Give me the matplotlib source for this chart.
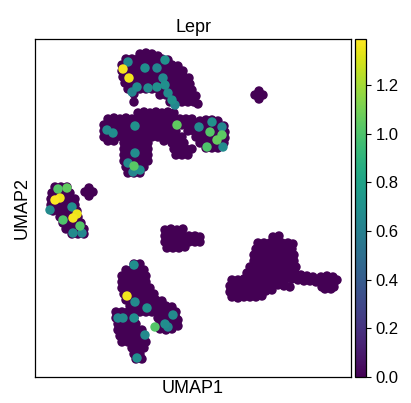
import numpy as np
import matplotlib
matplotlib.use("Agg")
import matplotlib.pyplot as plt

plt.rcParams['font.family'] = ['Liberation Sans', 'DejaVu Sans']

gene = "Lepr"

# umap coordinates of cells with zero expression, grouped by cluster
clust_top = [
    (140, 54), (146, 53), (152, 54), (158, 56),
    (126, 59), (132, 59), (138, 59), (144, 59), (150, 59), (156, 59), (162, 59), (168, 60),
    (122, 65), (130, 65), (136, 65), (142, 65), (148, 65), (154, 65), (160, 65), (166, 65), (172, 65), (178, 66),
    (122, 71), (130, 71), (136, 71), (142, 71), (148, 71), (154, 71), (160, 71), (166, 71), (172, 71), (178, 71), (183, 71),
    (123, 77), (130, 77), (136, 77), (142, 77), (148, 77), (154, 77), (160, 77), (166, 77), (172, 77), (178, 77), (184, 77), (189, 78),
    (125, 83), (132, 83), (138, 83), (144, 83), (150, 83), (156, 83), (162, 83), (168, 83), (174, 83), (180, 83), (186, 83), (190, 84),
    (128, 89), (134, 89), (140, 89), (146, 89), (152, 89), (158, 89), (164, 89), (170, 89), (176, 89), (182, 89), (188, 89), (192, 90),
    (134, 94), (160, 95), (166, 95), (172, 95), (178, 95), (184, 95), (190, 95), (196, 96),
    (134, 102), (170, 102), (176, 102), (182, 102), (188, 102), (194, 102), (198, 104),
]
clust_mid = [
    (138, 113), (144, 112), (150, 113), (156, 112), (162, 113), (168, 112), (174, 113),
    (108, 119), (114, 118), (120, 119), (126, 118), (132, 119), (138, 119), (144, 119), (150, 119), (156, 119),
    (162, 119), (168, 119), (174, 119), (180, 119), (186, 119), (192, 119), (200, 121), (206, 120), (212, 120), (218, 121),
    (104, 125), (110, 125), (116, 125), (122, 125), (128, 125), (134, 125), (140, 125), (146, 125), (152, 125),
    (158, 125), (164, 125), (170, 125), (176, 125), (182, 125), (188, 125), (194, 125), (200, 125), (206, 125),
    (212, 125), (218, 125), (224, 126),
    (104, 131), (110, 131), (116, 131), (122, 131), (128, 131), (134, 131), (140, 131), (146, 131), (152, 131),
    (158, 131), (164, 131), (170, 131), (176, 131), (188, 131), (194, 131), (200, 131), (206, 131), (212, 131),
    (218, 131), (225, 132),
    (104, 137), (110, 137), (116, 137), (122, 137), (128, 137), (134, 137), (140, 137), (146, 137), (152, 137),
    (158, 137), (164, 137), (170, 137), (176, 137), (182, 137), (196, 137), (202, 137), (208, 137), (214, 137),
    (220, 137), (225, 138),
    (108, 141), (114, 141), (124, 143), (130, 143), (136, 143), (142, 143), (148, 143), (164, 141), (172, 143),
    (178, 143), (184, 143), (200, 143), (206, 143), (212, 143), (218, 143), (224, 143),
    (124, 149), (130, 149), (136, 149), (142, 149), (148, 149), (174, 149), (180, 149), (186, 149), (192, 149),
    (206, 148), (212, 148), (218, 148),
    (124, 155), (130, 155), (136, 155), (142, 155), (148, 155), (176, 155), (182, 155), (188, 155),
    (124, 161), (130, 161), (136, 161), (142, 161), (148, 161),
    (126, 167), (132, 167), (138, 167), (144, 167),
    (128, 173), (134, 173), (140, 173),
]
clust_left = [
    (55, 187), (61, 187), (67, 187),
    (52, 193), (58, 193), (64, 193), (70, 193),
    (51, 199), (57, 199), (63, 199), (69, 199), (75, 199),
    (51, 205), (57, 205), (63, 205), (69, 205), (75, 205),
    (53, 211), (59, 211), (65, 211), (71, 211), (77, 211),
    (60, 217), (66, 217), (72, 217), (78, 217),
    (63, 223), (69, 223), (75, 223), (81, 223),
    (66, 229), (72, 229), (78, 229), (84, 229),
    (72, 234), (78, 234), (84, 234),
]
clust_dot1 = [(89, 188), (85, 192), (93, 192), (89, 196), (89, 192)]
clust_dot2 = [(259, 91), (255, 95), (263, 95), (259, 99), (259, 95)]
clust_center = [
    (165, 230), (171, 229), (177, 230), (183, 229),
    (165, 236), (171, 236), (177, 236), (183, 236), (189, 236), (195, 236), (200, 237),
    (165, 242), (171, 242), (177, 242), (183, 242), (189, 242), (195, 242), (200, 242),
    (167, 248), (173, 248), (179, 248), (185, 247),
]
clust_right = [
    (273, 237), (279, 236),
    (258, 243), (264, 243), (270, 243), (276, 243), (282, 243), (288, 243), (293, 244),
    (256, 249), (262, 249), (268, 249), (274, 249), (280, 249), (286, 249), (292, 249),
    (254, 255), (260, 255), (266, 255), (272, 255), (278, 255), (284, 255), (290, 255), (294, 255),
    (254, 261), (260, 261), (266, 261), (272, 261), (278, 261), (284, 261), (290, 261), (294, 261),
    (250, 267), (256, 267), (262, 267), (268, 267), (274, 267), (280, 267), (286, 267), (292, 267), (296, 267),
    (247, 273), (253, 273), (259, 273), (265, 273), (271, 273), (277, 273), (283, 273), (289, 273), (295, 273),
    (301, 275), (307, 276), (313, 277),
    (321, 277), (327, 276), (333, 277), (337, 280),
    (232, 280), (238, 280), (244, 279), (250, 279), (256, 279), (262, 279), (268, 279), (274, 279), (280, 279),
    (286, 279), (292, 279), (298, 280), (304, 281), (310, 281), (316, 282), (322, 282), (328, 282), (334, 283),
    (230, 286), (236, 286), (242, 285), (248, 285), (254, 285), (260, 285), (266, 285), (272, 285), (278, 285),
    (284, 286), (290, 287), (322, 287), (328, 287), (334, 287),
    (230, 292), (236, 292), (242, 291), (248, 291), (254, 291), (260, 291), (266, 291), (272, 290), (325, 289), (331, 289),
    (232, 297), (238, 298), (244, 297), (250, 297), (256, 297), (262, 296),
]
clust_bottom = [
    (134, 264), (140, 264),
    (126, 270), (132, 270), (138, 270), (144, 270),
    (122, 276), (128, 276), (134, 276), (140, 276), (146, 276),
    (122, 282), (128, 282), (134, 282), (140, 282), (146, 282),
    (122, 288), (128, 288), (134, 288), (140, 288), (146, 288), (150, 288),
    (124, 294), (130, 294), (136, 294), (142, 294), (148, 294), (154, 294),
    (126, 300), (132, 300), (138, 300), (144, 300), (150, 300), (156, 300), (162, 301),
    (130, 306), (136, 306), (142, 306), (148, 306), (154, 306), (160, 306), (166, 306), (172, 307),
    (116, 312), (122, 312), (128, 312), (134, 312), (140, 312), (146, 312), (152, 312), (158, 312), (164, 312),
    (170, 312), (176, 312),
    (116, 318), (122, 318), (128, 318), (134, 318), (158, 318), (164, 318), (170, 318), (176, 318), (178, 320),
    (118, 324), (124, 324), (130, 324), (136, 324), (160, 324), (166, 324), (172, 324), (178, 326),
    (118, 330), (124, 330), (130, 330), (136, 330), (142, 330), (160, 329), (166, 330), (172, 329),
    (120, 336), (126, 336), (132, 336), (138, 336), (144, 336),
    (122, 342), (128, 342), (134, 342), (140, 342), (146, 342),
    (132, 348), (138, 348), (144, 348),
    (134, 354), (140, 354),
    (136, 359), (142, 359),
]

# cells with Lepr expression: (x, y, value)
expressed = [
    # top cluster
    (128, 62, 0.66), (145, 68, 0.68), (157, 68, 0.64), (165, 60, 0.70),
    (123, 69, 1.37), (129, 78, 1.36), (137, 87, 0.67), (132, 92, 0.62),
    (148, 88, 0.66), (157, 87, 0.70), (163, 78, 0.65), (165, 85, 0.69),
    (168, 93, 0.66), (172, 100, 0.70), (175, 105, 0.64),
    # middle cluster
    (107, 130, 0.66), (113, 133, 0.68), (135, 126, 0.70), (177, 125, 1.05),
    (199, 127, 0.66), (212, 122, 0.70), (210, 132, 1.02), (222, 127, 0.64),
    (222, 135, 1.04), (217, 140, 1.06), (223, 147, 0.66), (207, 147, 1.00),
    (135, 153, 0.67), (128, 163, 0.65), (134, 166, 1.03), (140, 170, 0.68), (133, 172, 0.63),
    # left cluster
    (58, 189, 1.02), (67, 188, 1.05), (55, 200, 1.38), (60, 198, 1.36),
    (50, 210, 0.66), (72, 207, 0.68), (63, 220, 1.00), (73, 218, 1.37),
    (77, 214, 1.35), (80, 226, 1.02), (73, 233, 0.66), (82, 233, 0.64),
    # bottom cluster
    (134, 265, 0.68), (127, 296, 1.36), (135, 302, 0.66), (147, 308, 0.70),
    (118, 318, 0.64), (123, 318, 0.66), (134, 318, 0.68), (173, 315, 0.66),
    (155, 327, 1.02), (165, 324, 0.68), (168, 327, 0.64), (145, 335, 0.66), (137, 358, 0.68),
]

zero = clust_top + clust_mid + clust_left + clust_dot1 + clust_dot2 + clust_center + clust_right + clust_bottom
xs = [p[0] for p in zero] + [p[0] for p in expressed]
ys = [p[1] for p in zero] + [p[1] for p in expressed]
vals = [0.0] * len(zero) + [p[2] for p in expressed]

xs = np.array(xs)
ys = np.array(ys)
vals = np.array(vals)
order = np.argsort(vals, kind="stable")

fig = plt.figure(figsize=(4.11, 4.03), dpi=100)
ax = fig.add_axes([35 / 411, 26 / 403, 316 / 411, 338 / 403])
cax = fig.add_axes([355 / 411, 26 / 403, 11 / 411, 338 / 403])

sc = ax.scatter(xs[order], ys[order], c=vals[order], cmap="viridis", vmin=0, vmax=1.39,
                s=46, linewidths=0, plotnonfinite=True)
ax.set_xlim(35, 351)
ax.set_ylim(377, 39)
ax.set_xticks([])
ax.set_yticks([])
ax.set_title(gene, fontsize=13, pad=5)
ax.set_xlabel("UMAP1", fontsize=13, labelpad=2)
ax.set_ylabel("UMAP2", fontsize=13, labelpad=3)
for sp in ax.spines.values():
    sp.set_linewidth(0.9)

cb = fig.colorbar(sc, cax=cax)
cb.set_ticks([0.0, 0.2, 0.4, 0.6, 0.8, 1.0, 1.2])
cb.ax.tick_params(labelsize=12, length=3.5, width=0.8)
cb.outline.set_linewidth(0.9)

fig.savefig("out.png", dpi=100)
